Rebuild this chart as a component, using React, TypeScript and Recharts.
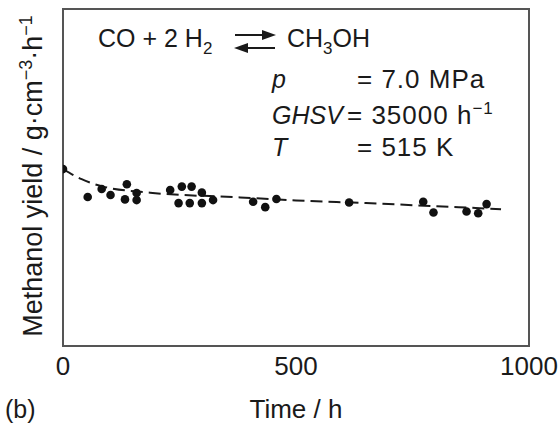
import React from "react";
import {
  ComposedChart,
  Scatter,
  Line,
  XAxis,
  YAxis,
  ReferenceArea,
  Customized,
} from "recharts";

// measured points (time in h, yield in arbitrary units - no y ticks on the original)
const measTime = [0, 53, 83, 102, 137, 133, 158, 158, 230, 255, 248, 276, 272, 298, 298, 322, 408, 434, 458, 614, 773, 795, 866, 891, 909];
const measYield = [5.25, 4.42, 4.66, 4.48, 4.8, 4.35, 4.54, 4.33, 4.63, 4.73, 4.24, 4.73, 4.24, 4.55, 4.24, 4.33, 4.28, 4.12, 4.36, 4.26, 4.28, 3.96, 3.99, 3.94, 4.21];

// dashed trend line
const fitTime = [0, 40, 86, 187, 380, 500, 650, 830, 940];
const fitYield = [5.25, 4.95, 4.73, 4.55, 4.41, 4.32, 4.24, 4.13, 4.06];

const xTicks = [0, 500, 1000];

const points = measTime.map((t, i) => ({ t, y: measYield[i] }));
const fit = fitTime.map((t, i) => ({ t, y: fitYield[i] }));

const FONT = "'Liberation Sans', Arial, Helvetica, sans-serif";
const INK = "#1a1a1a";

const Annotations = () => (
  <g fontFamily={FONT} fill={INK}>
    {/* reaction */}
    <text x={98} y={47} fontSize={25}>
      CO + 2 H<tspan fontSize={17} dy={7}>2</tspan>
    </text>
    <line x1={235} y1={35} x2={268} y2={35} stroke={INK} strokeWidth={2} />
    <polygon points="276,35 262,30 262,40" fill={INK} />
    <line x1={242} y1={48} x2={275} y2={48} stroke={INK} strokeWidth={2} />
    <polygon points="234,48 248,43 248,53" fill={INK} />
    <text x={287} y={47} fontSize={25}>
      CH<tspan fontSize={17} dy={7}>3</tspan>
      <tspan dy={-7}>OH</tspan>
    </text>

    {/* conditions */}
    <text x={272} y={88} fontSize={25} fontStyle="italic">p</text>
    <text x={357} y={88} fontSize={26} letterSpacing={1}>= 7.0 MPa</text>
    <text x={272} y={124} fontSize={25} fontStyle="italic">GHSV</text>
    <text x={347} y={124} fontSize={26} letterSpacing={1}>
      = 35000 h<tspan fontSize={17} dy={-10}>−1</tspan>
    </text>
    <text x={272} y={156} fontSize={25} fontStyle="italic">T</text>
    <text x={357} y={156} fontSize={26} letterSpacing={1}>= 515 K</text>

    {/* y axis title */}
    <text x={42} y={176} fontSize={27} textAnchor="middle" transform="rotate(-90 42 176)">
      Methanol yield / g·cm<tspan fontSize={18} dy={-10}>−3</tspan>
      <tspan dy={10}>·h</tspan>
      <tspan fontSize={18} dy={-10}>−1</tspan>
    </text>

    {/* x axis title + panel tag */}
    <text x={296} y={418} fontSize={26} textAnchor="middle">Time / h</text>
    <text x={5} y={418} fontSize={25}>(b)</text>
  </g>
);

export default function App() {
  return (
    <div style={{ position: "absolute", left: 0, top: 0, background: "#fff" }}>
      <ComposedChart
        width={560}
        height={424}
        margin={{ top: 9, right: 31, bottom: 18, left: 63 }}
      >
        <XAxis
          type="number"
          dataKey="t"
          domain={[0, 1000]}
          ticks={xTicks}
          allowDataOverflow
          axisLine={false}
          tickLine={false}
          tickMargin={5}
          height={60}
          tick={{ fontSize: 26, fill: INK, fontFamily: FONT }}
        />
        <YAxis type="number" dataKey="y" domain={[0, 10]} hide />
        <ReferenceArea
          x1={0}
          x2={1000}
          y1={0}
          y2={10}
          fill="none"
          stroke="#555"
          strokeWidth={2}
        />
        <Line
          data={fit}
          dataKey="y"
          type="monotone"
          stroke={INK}
          strokeWidth={2}
          strokeDasharray="12 6"
          dot={false}
          isAnimationActive={false}
        />
        <Scatter
          data={points}
          dataKey="y"
          fill="#111"
          shape={(p: any) => <circle cx={p.cx} cy={p.cy} r={4.3} fill="#111" />}
          isAnimationActive={false}
        />
        <Customized component={Annotations} />
      </ComposedChart>
    </div>
  );
}
